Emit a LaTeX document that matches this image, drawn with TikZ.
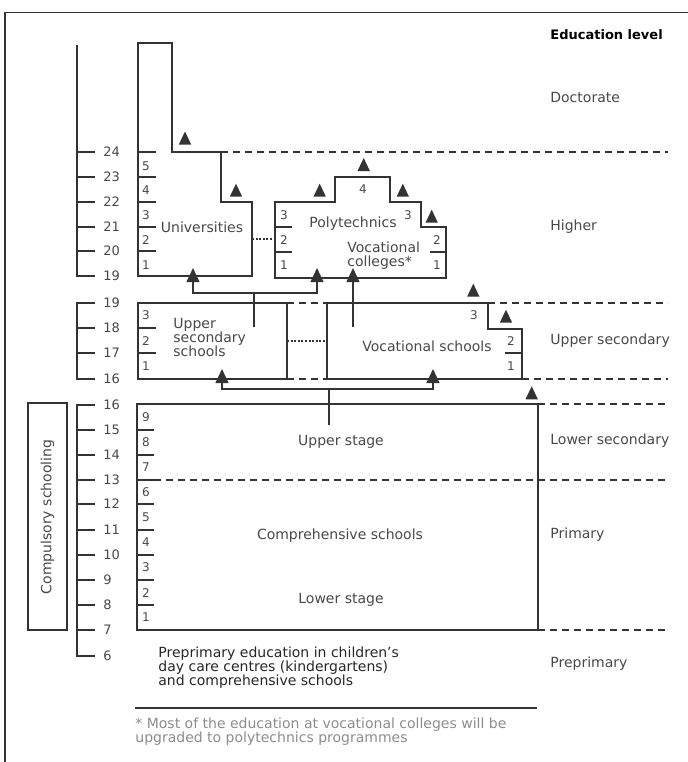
\documentclass[tikz,border=0pt]{standalone}
\usepackage{fontspec}
\setmainfont{DejaVu Sans}
\usetikzlibrary{arrows.meta}
\usepackage{xcolor}
\definecolor{inkline}{HTML}{333333}
\definecolor{inktext}{HTML}{484848}
\definecolor{inknote}{HTML}{8C8C8C}

\begin{document}
\begin{tikzpicture}[x=0.5pt, y=-0.5pt,
  wall/.style={draw=inkline, line width=0.9pt},
  level/.style={draw=inkline, line width=0.8pt, dash pattern=on 3.5pt off 2.5pt},
  bridge/.style={draw=inkline, line width=0.6pt, dash pattern=on 1pt off 0.8pt},
  link/.style={draw=inkline, line width=0.8pt},
  feed/.style={link, -{Triangle[length=7pt, width=6.4pt]}},
  txt/.style={inner sep=0pt, text=inktext, font=\fontsize{7}{7}\selectfont},
  age/.style={inner sep=0pt, anchor=west, text=inktext, font=\fontsize{6.5}{6.5}\selectfont},
  year/.style={inner sep=0pt, text=inktext, font=\fontsize{6}{6}\selectfont},
  triup/.pic={\fill[inkline] (-6.2,0) -- (6.2,0) -- (0,-13) -- cycle;}
]
  \useasboundingbox (0,0) rectangle (688,762);
  \draw[wall] (5,762) -- (5,12.5) -- (688,12.5);

  % age axis
  \draw[wall] (77,45) -- (77,276) -- (95,276);
  \foreach \y in {152,177,202,227,251} \draw[wall] (77,\y) -- (95,\y);
  \foreach \a/\y in {24/152,23/177,22/202,21/227,20/251,19/276}
    \node[age] (hi\a) at (103,\y) {\a};
  \draw[wall] (95,303) -- (77,303) -- (77,379) -- (95,379);
  \foreach \y in {328,353} \draw[wall] (77,\y) -- (95,\y);
  \foreach \a/\y in {19/303,18/328,17/353,16/379}
    \node[age] (se\a) at (103,\y) {\a};
  \draw[wall] (95,405) -- (77,405) -- (77,656) -- (95,656);
  \foreach \y in {430,455,480,504,530,555,580,605,630} \draw[wall] (77,\y) -- (95,\y);
  \foreach \a/\y in {16/405,15/430,14/455,13/480,12/504,11/530,10/555,9/580,8/605,7/630,6/656}
    \node[age] (lo\a) at (103,\y) {\a};

  \draw[wall] (28,403) rectangle (67,630);
  \node[txt, rotate=90] (compulsory) at (47.5,517) {Compulsory schooling};

  % higher education
  \draw[wall] (138,43) -- (172,43) -- (172,152) -- (221,152) -- (221,202) -- (252,202)
    -- (252,276) -- (138,276) -- cycle;
  \foreach \y in {152,177,202,227,251} \draw[wall] (138,\y) -- (156,\y);
  \foreach \n/\y in {5/166,4/190,3/215,2/240,1/265}
    \node[year] (un\n) at (146,\y) {\n};
  \node[txt] (univ) at (202,227) {Universities};

  \draw[wall] (275,202) -- (335,202) -- (335,177) -- (390,177) -- (390,202) -- (421,202)
    -- (421,227) -- (446,227) -- (446,278) -- (275,278) -- cycle;
  \foreach \y in {227,252} \draw[wall] (275,\y) -- (292,\y);
  \draw[wall] (430,252) -- (446,252);
  \foreach \n/\y in {3/215,2/240,1/265}
    \node[year] (pl\n) at (284,\y) {\n};
  \node[year] (pt4) at (363,189) {4};
  \node[year] (pt3) at (408,215) {3};
  \node[year] (pr2) at (437,240) {2};
  \node[year] (pr1) at (437,265) {1};
  \node[txt] (poly) at (353,224) {Polytechnics};
  \node[txt, anchor=west, align=left] (vocol) at (347,255.5) {Vocational\\colleges*};

  \draw[bridge] (252,239) -- (275,239);
  \draw[level] (221,152) -- (668,152);

  % upper secondary
  \draw[wall] (138,303) rectangle (287,379);
  \foreach \y in {328,353} \draw[wall] (138,\y) -- (156,\y);
  \foreach \n/\y in {3/315,2/341,1/366}
    \node[year] (us\n) at (146,\y) {\n};
  \node[txt, anchor=west, align=left] (upsec) at (173,337) {Upper\\secondary\\schools};

  \draw[wall] (327,303) -- (488,303) -- (488,329) -- (522,329) -- (522,379) -- (327,379) -- cycle;
  \draw[wall] (505,353) -- (522,353);
  \node[year] (vs3) at (474,315) {3};
  \node[year] (vs2) at (511,341) {2};
  \node[year] (vs1) at (511,366) {1};
  \node[txt] (vocsch) at (427,346) {Vocational schools};

  \draw[level] (287,303) -- (327,303);
  \draw[level] (287,379) -- (327,379);
  \draw[bridge] (287,341) -- (327,341);
  \draw[level] (488,303) -- (668,303);
  \draw[level] (522,379) -- (668,379);

  % comprehensive schools
  \draw[wall] (137,404) rectangle (538,630);
  \foreach \y in {430,455,480,504,530,555,580,605} \draw[wall] (137,\y) -- (154,\y);
  \foreach \n/\y in {9/417,8/442,7/467,6/492,5/517,4/542,3/567,2/593,1/617}
    \node[year] (cs\n) at (146,\y) {\n};
  \draw[level] (154,480) -- (668,480);
  \draw[level] (538,404) -- (668,404);
  \draw[level] (538,630) -- (668,630);
  \node[txt] (upstage) at (341,442) {Upper stage};
  \node[txt] (compr) at (340,536) {Comprehensive schools};
  \node[txt] (lowstage) at (341,600) {Lower stage};

  % education levels
  \node[txt, anchor=west, text=black, font=\fontsize{6.5}{6.5}\selectfont\bfseries] (head) at (550,34.5) {Education level};
  \node[txt, anchor=west] (doct) at (550,97) {Doctorate};
  \node[txt, anchor=west] (higher) at (550,227) {Higher};
  \node[txt, anchor=west] (uplev) at (550,341) {Upper secondary};
  \node[txt, anchor=west] (lowlev) at (550,441) {Lower secondary};
  \node[txt, anchor=west] (prim) at (550,535) {Primary};
  \node[txt, anchor=west] (preprim) at (550,664) {Preprimary};

  \node[txt, anchor=west, align=left, text=black!85] (prepri) at (158,667.5)
    {Preprimary education in children’s\\day care centres (kindergartens)\\and comprehensive schools};
  \draw[wall, line width=1.2pt] (135,708) -- (537,708);
  \node[txt, anchor=west, align=left, text=inknote] (note) at (135,731.5)
    {* Most of the education at vocational colleges will be\\upgraded to polytechnics programmes};

  % progression
  \coordinate (us-stem) at (254,327);
  \coordinate (us-fork) at (254,293);
  \coordinate (to-univ) at (193,268);
  \coordinate (to-poly) at (317,268);
  \draw[link] (us-stem) -- (us-fork);
  \draw[feed] (us-fork) -| (to-univ);
  \draw[feed] (us-fork) -| (to-poly);

  \coordinate (vs-stem) at (353,327);
  \coordinate (to-vocol) at (353,268);
  \draw[feed] (vs-stem) -- (to-vocol);

  \coordinate (cs-stem) at (329,425);
  \coordinate (cs-fork) at (329,389);
  \coordinate (to-us) at (222,369);
  \coordinate (to-vs) at (433,369);
  \draw[link] (cs-stem) -- (cs-fork);
  \draw[feed] (cs-fork) -| (to-us);
  \draw[feed] (cs-fork) -| (to-vs);

  \foreach \x/\y in {185/144.5,236/196.7,319.7/196.7,363.7/171,402.8/196.7,431.7/222.7,473.3/296.7,506/322.7,531.7/399.3}
    \pic at (\x,\y) {triup};
\end{tikzpicture}
\end{document}
